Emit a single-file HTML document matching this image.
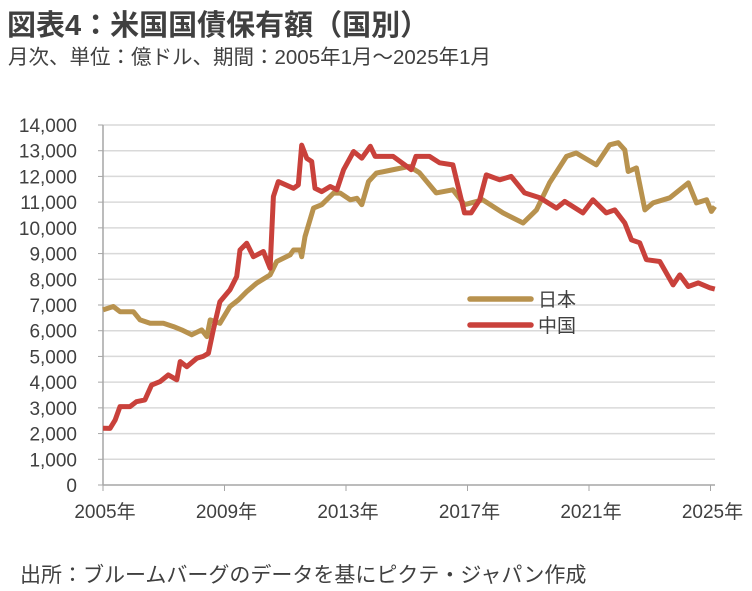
<!DOCTYPE html>
<html><head><meta charset="utf-8"><style>
html,body{margin:0;padding:0;background:#fff;}
body{width:752px;height:591px;overflow:hidden;position:relative;font-family:"Liberation Sans","Noto Sans CJK JP",sans-serif;color:#404040;}
.t{position:absolute;white-space:nowrap;}
</style></head><body>
<div class="t" style="left:7px;top:2px;font-size:29px;font-weight:bold;color:#404040;">図表4：米国国債保有額（国別）</div>
<div class="t" style="left:8px;top:40px;font-size:20.5px;">月次、単位：億ドル、期間：2005年1月～2025年1月</div>
<div class="t" style="left:20px;top:559px;font-size:21px;">出所：ブルームバーグのデータを基にピクテ・ジャパン作成</div>
<svg id="chart" width="752" height="591" style="position:absolute;left:0;top:0;" xmlns="http://www.w3.org/2000/svg"></svg>
<script>
const yTicks=[0,1000,2000,3000,4000,5000,6000,7000,8000,9000,10000,11000,12000,13000,14000];
const yTickLabels=["0","1,000","2,000","3,000","4,000","5,000","6,000","7,000","8,000","9,000","10,000","11,000","12,000","13,000","14,000"];
const xTicks=[2005,2009,2013,2017,2021,2025];
const xTickLabels=["2005年","2009年","2013年","2017年","2021年","2025年"];
const seriesNames=["日本","中国"];
const japanDates=[2005.0,2005.34,2005.56,2006.0,2006.22,2006.55,2006.99,2007.32,2007.59,2007.92,2008.25,2008.42,2008.53,2008.85,2009.18,2009.46,2009.73,2010.06,2010.5,2010.72,2011.16,2011.27,2011.49,2011.54,2011.65,2011.93,2012.2,2012.59,2012.81,2013.14,2013.36,2013.52,2013.74,2014.0,2014.5,2015.08,2015.42,2015.97,2016.52,2016.9,2017.5,2018.17,2018.83,2019.27,2019.7,2020.26,2020.58,2021.24,2021.68,2021.96,2022.18,2022.29,2022.56,2022.84,2023.11,2023.66,2024.27,2024.54,2024.87,2025.03,2025.14];
const japanValues=[6810,6940,6740,6740,6420,6290,6290,6160,6030,5840,6030,5770,6420,6290,6940,7200,7520,7850,8170,8690,8950,9140,9140,8880,9660,10770,10900,11350,11350,11090,11150,10900,11800,12130,12250,12390,12140,11360,11480,10900,11090,10580,10190,10700,11750,12780,12910,12450,13230,13310,13030,12190,12330,10700,10970,11170,11750,10970,11090,10640,10830];
const chinaDates=[2005.0,2005.23,2005.4,2005.56,2005.89,2006.1,2006.38,2006.6,2006.88,2007.15,2007.43,2007.54,2007.76,2008.09,2008.3,2008.47,2008.63,2008.85,2009.18,2009.4,2009.51,2009.73,2009.95,2010.28,2010.5,2010.61,2010.77,2011.27,2011.43,2011.54,2011.71,2011.87,2011.98,2012.2,2012.48,2012.7,2012.92,2013.25,2013.52,2013.8,2013.96,2014.55,2015.15,2015.3,2015.75,2016.08,2016.52,2016.9,2017.12,2017.4,2017.62,2018.06,2018.44,2018.88,2019.38,2019.93,2020.2,2020.8,2021.13,2021.57,2021.85,2022.18,2022.4,2022.67,2022.89,2023.33,2023.77,2023.99,2024.27,2024.6,2024.98,2025.14];
const chinaValues=[2206,2200,2530,3050,3050,3240,3310,3890,4020,4280,4090,4800,4600,4930,5000,5120,6030,7130,7590,8110,9140,9400,8880,9080,8430,11220,11800,11540,11670,13220,12700,12580,11540,11410,11610,11480,12260,12970,12710,13170,12780,12780,12260,12780,12780,12530,12450,10580,10580,11090,12060,11870,12000,11360,11170,10770,11030,10580,11090,10580,10700,10190,9530,9420,8760,8690,7780,8170,7720,7860,7670,7620];

const NS="http://www.w3.org/2000/svg";
const svg=document.getElementById('chart');
const X0=103,X1=710.5,Y0=485,Y1=125;
function xScale(y){return X0+(y-2005)/20*(X1-X0);}
function yScale(v){return Y0-v/14000*(Y0-Y1);}
function mk(tag,attrs){const e=document.createElementNS(NS,tag);for(const k in attrs)e.setAttribute(k,attrs[k]);svg.appendChild(e);return e;}
yTicks.forEach((v,i)=>{
  if(v>0){const g=mk('line',{x1:X0,x2:715,y1:yScale(v),y2:yScale(v),stroke:'#d9d9d9','stroke-width':1.5});
  
  }
  const tk=mk('line',{x1:X0-5,x2:X0,y1:yScale(v),y2:yScale(v),stroke:'#a6a6a6','stroke-width':1});
  
  
  const t=mk('text',{x:77,y:yScale(v)+7,'text-anchor':'end','font-size':19,fill:'#404040','font-family':'Liberation Sans, sans-serif'});
  t.textContent=yTickLabels[i];
  
  
});
const ya=mk('line',{x1:X0,x2:X0,y1:Y1,y2:Y0,stroke:'#a6a6a6','stroke-width':1.5});


const xa=mk('line',{x1:X0,x2:715,y1:Y0,y2:Y0,stroke:'#a6a6a6','stroke-width':1.5});


xTicks.forEach((v,i)=>{
  const tk=mk('line',{x1:xScale(v),x2:xScale(v),y1:Y0,y2:Y0+6,stroke:'#a6a6a6','stroke-width':1});
  
  
  const t=mk('text',{x:xScale(v)+2,y:518,'text-anchor':'middle','font-size':19,fill:'#404040','font-family':'Liberation Sans, Noto Sans CJK JP, sans-serif'});
  t.textContent=xTickLabels[i];
  
  
});
function line(dates,vals,color,name){
  const d=dates.map((t,i)=>(i?'L':'M')+xScale(t).toFixed(1)+','+yScale(vals[i]).toFixed(1)).join(' ');
  const p=mk('path',{d:d,fill:'none',stroke:color,'stroke-width':5,'stroke-linejoin':'round'});
  
  
}
line(japanDates,japanValues,'#b8924e','japan-line');
line(chinaDates,chinaValues,'#c9413b','china-line');
[['#b8924e',299,'legend-entry-japan'],['#c9413b',325,'legend-entry-china']].forEach((c,i)=>{
  const l=mk('line',{x1:470,x2:531,y1:c[1],y2:c[1],stroke:c[0],'stroke-width':5.5,'stroke-linecap':'round'});
  
  
  const t=mk('text',{x:538,y:c[1]+7,'font-size':19,fill:'#404040','font-family':'Noto Sans CJK JP, sans-serif'});
  t.textContent=seriesNames[i];
  
  
});
</script>
</body></html>
